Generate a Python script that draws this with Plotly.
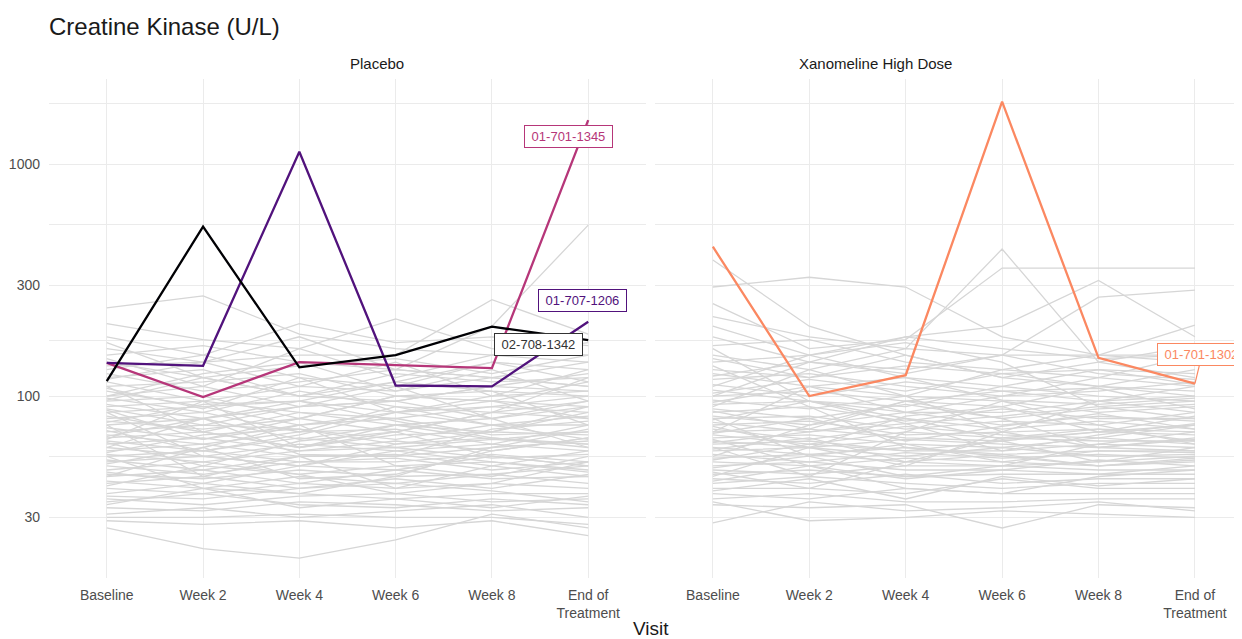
import math
import plotly.graph_objects as go

# ---------------- data ----------------
visits = ["Baseline", "Week 2", "Week 4", "Week 6", "Week 8", "End of Treatment"]
visit_labels = ["Baseline", "Week 2", "Week 4", "Week 6", "Week 8", "End of<br>Treatment"]
y_ticks = [30, 100, 300, 1000]
panels = ["Placebo", "Xanomeline High Dose"]

# Background subjects, Placebo (values at each visit)
placebo_gray = [
    [240, 270, 185, 160, 150, 140],
    [205, 175, 160, 215, 160, 150],
    [180, 150, 205, 170, 180, 165],
    [160, 140, 150, 150, 260, 185],
    [150, 165, 140, 130, 200, 545],
    [140, 120, 135, 145, 125, 150],
    [130, 150, 120, 110, 140, 130],
    [125, 105, 115, 130, 120, 140],
    [120, 130, 100, 125, 115, 120],
    [115, 95, 110, 105, 120, 110],
    [110, 115, 125, 100, 95, 115],
    [105, 90, 95, 115, 105, 100],
    [100, 110, 90, 95, 110, 125],
    [98, 85, 105, 90, 85, 95],
    [95, 100, 80, 100, 95, 90],
    [92, 80, 95, 85, 100, 105],
    [90, 95, 85, 80, 90, 85],
    [88, 75, 90, 95, 80, 90],
    [85, 90, 75, 85, 95, 80],
    [82, 70, 85, 75, 80, 95],
    [80, 85, 70, 90, 75, 75],
    [78, 72, 80, 70, 85, 80],
    [75, 80, 65, 75, 70, 85],
    [73, 65, 75, 80, 68, 70],
    [70, 75, 72, 65, 75, 65],
    [68, 62, 70, 72, 62, 75],
    [66, 70, 60, 68, 70, 68],
    [64, 58, 66, 60, 65, 62],
    [62, 66, 58, 64, 58, 66],
    [60, 55, 62, 58, 62, 58],
    [58, 62, 55, 55, 60, 64],
    [56, 52, 58, 60, 54, 56],
    [55, 58, 52, 52, 56, 52],
    [53, 48, 55, 56, 50, 58],
    [52, 55, 50, 48, 55, 50],
    [50, 46, 52, 54, 48, 52],
    [48, 52, 46, 50, 52, 48],
    [46, 44, 48, 45, 46, 50],
    [45, 48, 42, 48, 44, 45],
    [43, 40, 45, 42, 46, 42],
    [42, 45, 40, 44, 40, 46],
    [40, 38, 42, 40, 42, 40],
    [38, 42, 38, 36, 38, 38],
    [36, 34, 37, 38, 35, 36],
    [35, 38, 34, 33, 36, 34],
    [33, 32, 35, 34, 32, 33],
    [31, 33, 30, 32, 34, 30],
    [30, 30, 31, 30, 30, 28],
    [27, 22, 20, 24, 31, 27],
    [29, 28, 29, 27, 29, 25],
    [135, 140, 180, 130, 120, 110],
    [170, 120, 100, 95, 110, 105],
    [65, 95, 60, 70, 85, 120],
    [45, 60, 75, 50, 45, 55],
    [110, 70, 60, 75, 65, 70],
    [85, 55, 50, 62, 70, 90],
    [75, 45, 55, 40, 50, 45],
    [60, 80, 90, 110, 80, 60],
    [100, 125, 140, 105, 130, 95],
    [55, 40, 38, 45, 60, 72],
    [145, 110, 160, 120, 150, 170],
    [118, 140, 110, 140, 100, 130],
    [108, 88, 120, 85, 75, 82],
    [96, 120, 100, 115, 140, 115],
    [87, 65, 80, 100, 105, 75],
    [77, 92, 95, 78, 66, 60],
    [71, 58, 68, 85, 90, 100],
    [67, 80, 56, 55, 72, 78],
    [63, 50, 64, 70, 55, 50],
    [57, 68, 72, 62, 66, 62],
    [51, 60, 44, 46, 58, 66],
    [47, 42, 50, 58, 52, 47],
    [41, 50, 46, 38, 42, 52],
    [37, 36, 40, 42, 39, 35],
    [34, 40, 33, 36, 33, 37],
]

# Background subjects, Xanomeline High Dose
xanomeline_gray = [
    [386, 200, 150, 120, 110, 100],
    [295, 325, 295, 180, 150, 140],
    [250, 160, 175, 356, 356, 356],
    [220, 180, 160, 430, 140, 120],
    [200, 150, 180, 200, 315, 180],
    [180, 140, 130, 150, 267, 286],
    [165, 175, 140, 130, 150, 202],
    [150, 130, 160, 150, 150, 150],
    [140, 150, 120, 110, 130, 125],
    [130, 120, 135, 125, 110, 130],
    [125, 110, 100, 130, 120, 110],
    [118, 125, 110, 100, 105, 115],
    [112, 100, 115, 105, 95, 100],
    [106, 95, 90, 110, 100, 95],
    [100, 105, 95, 90, 110, 105],
    [96, 88, 100, 95, 85, 90],
    [92, 95, 85, 85, 95, 85],
    [88, 80, 92, 80, 88, 92],
    [85, 90, 78, 88, 80, 80],
    [82, 75, 85, 75, 82, 78],
    [80, 82, 72, 78, 75, 85],
    [77, 70, 80, 72, 78, 72],
    [75, 78, 68, 70, 72, 70],
    [72, 65, 74, 68, 66, 75],
    [70, 72, 66, 64, 70, 68],
    [68, 62, 70, 66, 64, 64],
    [66, 68, 62, 60, 66, 62],
    [64, 60, 65, 62, 60, 66],
    [62, 64, 58, 58, 62, 60],
    [60, 56, 60, 56, 58, 58],
    [58, 60, 55, 60, 55, 56],
    [56, 52, 57, 54, 56, 54],
    [54, 56, 52, 50, 52, 55],
    [52, 50, 54, 52, 50, 52],
    [50, 52, 48, 48, 53, 50],
    [48, 46, 50, 50, 48, 48],
    [46, 48, 45, 46, 46, 46],
    [44, 42, 46, 42, 44, 44],
    [42, 45, 42, 40, 42, 42],
    [40, 40, 38, 44, 40, 40],
    [38, 36, 40, 38, 38, 38],
    [36, 38, 35, 35, 36, 36],
    [34, 33, 34, 27, 34, 33],
    [28.4, 35, 32, 33, 35, 32],
    [35, 29, 30, 32, 31, 30],
    [110, 150, 170, 140, 90, 80],
    [90, 130, 100, 70, 60, 65],
    [70, 110, 85, 100, 120, 150],
    [60, 45, 70, 95, 75, 62],
    [160, 95, 80, 65, 70, 75],
    [55, 75, 95, 80, 60, 58],
    [45, 60, 50, 70, 95, 110],
    [135, 90, 60, 55, 50, 54],
    [80, 55, 45, 50, 62, 70],
    [100, 140, 180, 160, 145, 150],
    [65, 50, 40, 38, 45, 48],
    [145, 120, 150, 120, 140, 165],
    [122, 140, 125, 150, 125, 118],
    [103, 118, 105, 125, 130, 112],
    [94, 110, 120, 96, 92, 98],
    [86, 72, 95, 105, 108, 88],
    [79, 95, 76, 82, 90, 95],
    [74, 60, 82, 90, 70, 82],
    [69, 80, 64, 74, 84, 72],
    [63, 70, 76, 58, 68, 76],
    [59, 66, 52, 66, 72, 64],
    [53, 62, 58, 64, 52, 60],
    [49, 55, 62, 52, 58, 57],
    [47, 40, 52, 56, 50, 53],
    [43, 50, 44, 48, 46, 50],
    [39, 44, 36, 45, 41, 44],
]

# Highlighted subjects
hl_ids = ["01-701-1345", "01-707-1206", "02-708-1342", "01-701-1302"]
hl_panel = [0, 0, 0, 1]
hl_values = [
    [139, 99, 140, 136, 132, 1546],
    [139, 135, 1130, 111, 110, 209],
    [116, 537, 133, 150, 199, 174],
    [440, 100, 123, 1856, 146, 113],
]
hl_colors = ["#B63679", "#51127C", "#000004", "#FB8861"]

# ---------------- figure ----------------
GRAY = "#d6d6d6"
GRID = "#ebebeb"
FONT = "Liberation Sans, Arial, sans-serif"
W, H = 1234, 631   # page body has an 8px margin

fig = go.Figure()
axes = [("x", "y"), ("x2", "y2")]
for p, data in enumerate([placebo_gray, xanomeline_gray]):
    xa, ya = axes[p]
    for row in data:
        fig.add_trace(go.Scatter(
            x=visits, y=row, mode="lines", xaxis=xa, yaxis=ya,
            line=dict(color=GRAY, width=1.3), showlegend=False, hoverinfo="skip"))

for sid, p, vals, col in zip(hl_ids, hl_panel, hl_values, hl_colors):
    xa, ya = axes[p]
    fig.add_trace(go.Scatter(
        x=visits, y=vals, mode="lines", xaxis=xa, yaxis=ya, name=sid,
        line=dict(color=col, width=2.3), showlegend=False))

# label offsets (pixels) relative to end-of-treatment point
label_shift = {
    "01-701-1345": (-20, -16),
    "01-707-1206": (-6, 21),
    "02-708-1342": (-50, -4),
}
for sid, p, vals, col in zip(hl_ids, hl_panel, hl_values, hl_colors):
    xa, ya = axes[p]
    txtcol = "#333333" if col == "#000004" else col
    bcol = "#333333" if col == "#000004" else col
    common = dict(x=visits[-1], y=math.log10(vals[-1]), xref=xa, yref=ya,
                  text="\u00a0" + sid + "\u00a0",
                  font=dict(family=FONT, size=13, color=txtcol),
                  bgcolor="white", bordercolor=bcol, borderwidth=1, borderpad=3)
    if sid in label_shift:
        dx, dy = label_shift[sid]
        fig.add_annotation(showarrow=False, xshift=dx, yshift=dy, **common)
    else:
        fig.add_annotation(showarrow=True, arrowhead=0, arrowwidth=1.2,
                           arrowcolor=col, ax=7, ay=-29, **common)

minor_vals = [16.43, math.sqrt(30 * 100), math.sqrt(100 * 300),
              math.sqrt(300 * 1000), 1826]
yrange = [1.2157, 3.3664]

xcommon = dict(type="category", categoryorder="array", categoryarray=visits,
               tickmode="array", tickvals=visits, ticktext=visit_labels,
               showgrid=True, gridcolor=GRID, gridwidth=1.3, zeroline=False,
               showline=False, ticks="", ticklabelstandoff=7,
               tickfont=dict(family=FONT, size=14, color="#4d4d4d"))
ycommon = dict(type="log", range=yrange, tickmode="array", tickvals=y_ticks,
               ticktext=[str(v) for v in y_ticks],
               showgrid=True, gridcolor=GRID, gridwidth=1.3, zeroline=False,
               showline=False, ticks="", ticklabelstandoff=8,
               minor=dict(tickmode="array", tickvals=minor_vals, showgrid=True,
                          gridcolor=GRID, gridwidth=0.8, ticks=""),
               tickfont=dict(family=FONT, size=14, color="#4d4d4d"))

L, T, B = 41, 71, 61
plot_w = W - L
fig.update_layout(
    width=W, height=H,
    margin=dict(l=L, r=0, t=T, b=B),
    paper_bgcolor="white", plot_bgcolor="white",
    font=dict(family=FONT, color="#1a1a1a"),
    title=dict(text="Creatine Kinase (U/L)", x=0, xref="paper", xanchor="left",
               y=1 - 19 / H, yref="container", yanchor="middle",
               font=dict(family=FONT, size=24, color="#1a1a1a")),
    xaxis=dict(domain=[0, 597 / plot_w], range=[-0.6, 5.6], anchor="y", **xcommon),
    xaxis2=dict(domain=[606 / plot_w, 1], range=[-0.6, 5.488], anchor="y2", **xcommon),
    yaxis=dict(domain=[0, 1], anchor="x", **ycommon),
    yaxis2=dict(domain=[0, 1], anchor="x2", matches="y", showticklabels=False,
                **{k: v for k, v in ycommon.items() if k not in ("tickfont",)}),
)

# facet strip labels
fig.add_annotation(text=panels[0], x=298.5 / plot_w, y=1, xref="paper", yref="paper",
                   yshift=16, showarrow=False, yanchor="middle",
                   font=dict(family=FONT, size=15, color="#1a1a1a"))
fig.add_annotation(text=panels[1], x=905 / plot_w, y=1, xref="paper", yref="paper",
                   yshift=16, showarrow=False, yanchor="middle",
                   font=dict(family=FONT, size=15, color="#1a1a1a"))
# x-axis title
fig.add_annotation(text="Visit", x=602 / plot_w, y=0, xref="paper", yref="paper",
                   yshift=-50, showarrow=False, yanchor="middle",
                   font=dict(family=FONT, size=19, color="#1a1a1a"))

fig.write_html("out.html")
